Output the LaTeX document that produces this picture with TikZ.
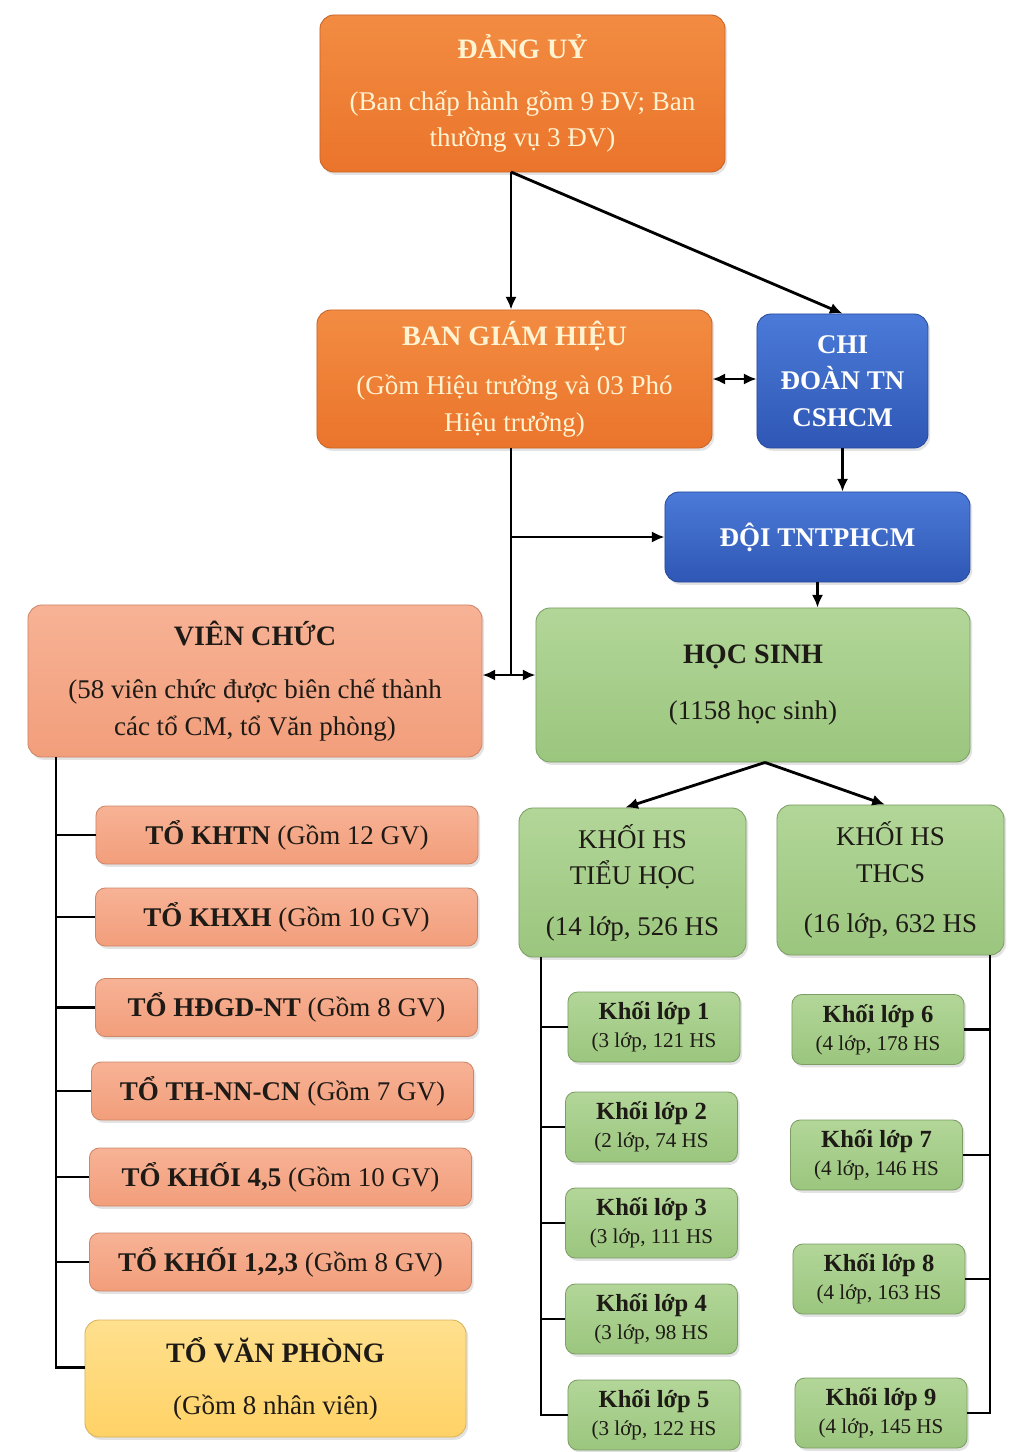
\documentclass[tikz,border=0pt]{standalone}
\usepackage{fontspec}
\setmainfont{Liberation Serif}
\usetikzlibrary{arrows.meta, shadows}

\newcommand{\boxfont}{\fontsize{19.2}{26}\selectfont}
\newcommand{\headfont}{\fontsize{20}{26}\selectfont\bfseries}
\newcommand{\gradehead}{\fontsize{17.5}{20}\selectfont\bfseries}
\newcommand{\gradesub}{\fontsize{15}{20}\selectfont}

\begin{document}
\begin{tikzpicture}[x=0.025cm, y=-0.025cm]

\definecolor{orgtop}{HTML}{F28C42}
\definecolor{orgbot}{HTML}{EB742B}
\definecolor{bluetop}{HTML}{4B7AD8}
\definecolor{bluebot}{HTML}{2F57B5}
\definecolor{salmontop}{HTML}{F7B295}
\definecolor{salmonbot}{HTML}{F29E7B}
\definecolor{greentop}{HTML}{B2D698}
\definecolor{greenbot}{HTML}{9BC67E}
\definecolor{yellowtop}{HTML}{FFE08E}
\definecolor{yellowbot}{HTML}{FFD266}
\definecolor{cream}{HTML}{FFF3D2}
\definecolor{ink}{HTML}{1E1A16}

% ================================================================
%  GEOMETRY: one unit = one pixel of the 1014 x 1452 sheet, y down.
%  party / board / union on top, staff tree down the left (bar x=56),
%  pupils on the right: primary bar x=541, secondary bar x=990.
% ================================================================

\tikzset{
  box/.style={rounded corners=10pt, align=center, inner sep=2pt,
              line width=0.6pt,
              drop shadow={opacity=0.22, shadow xshift=1.5pt, shadow yshift=-2pt}},
  lead/.style={box, top color=orgtop, bottom color=orgbot,
               draw=orgbot!85!black, text=cream, font=\boxfont},
  union/.style={box, top color=bluetop, bottom color=bluebot,
                draw=bluebot!85!black, text=white, font=\boxfont\bfseries},
  staff/.style={box, top color=salmontop, bottom color=salmonbot,
                draw=salmonbot!85!black, text=ink, font=\boxfont},
  pupil/.style={box, top color=greentop, bottom color=greenbot,
                draw=greenbot!80!black, text=ink, font=\boxfont},
  team/.style={staff, minimum width=9.55cm, minimum height=1.45cm,
               rounded corners=7pt},
  grade/.style={pupil, minimum width=4.3cm, minimum height=1.75cm,
                rounded corners=7pt, font=\gradesub},
  office/.style={box, top color=yellowtop, bottom color=yellowbot,
                 draw=yellowbot!85!black, text=ink, font=\boxfont},
  arr/.style={-{Latex[length=9pt, width=8pt]}, line width=2pt},
  arrs/.style={{Latex[length=9pt, width=8pt]}-{Latex[length=9pt, width=8pt]},
               line width=2pt},
  tie/.style={line width=2pt, line join=miter},
}

\useasboundingbox (0,0) rectangle (1014,1452);
\fill[white] (0,0) rectangle (1014,1452);

% ---------------------------------------------------------------- top
\node[lead, minimum width=10.125cm, minimum height=3.925cm] (du) at (522.5, 93.5)
    {{\headfont ĐẢNG UỶ}\\[11pt]
     (Ban chấp hành gồm 9 ĐV; Ban\\ thường vụ 3 ĐV)};
\node[lead, minimum width=9.875cm, minimum height=3.45cm] (bgh) at (514.5, 379)
    {{\headfont BAN GIÁM HIỆU}\\[9pt]
     (Gồm Hiệu trưởng và 03 Phó\\ Hiệu trưởng)};
\node[union, minimum width=4.275cm, minimum height=3.35cm] (cd) at (842.5, 381)
    {CHI\\ĐOÀN TN\\CSHCM};
\node[union, minimum width=7.625cm, minimum height=2.25cm] (doi) at (817.5, 537)
    {ĐỘI TNTPHCM};

% ---------------------------------------------------------------- middle
\node[staff, minimum width=11.35cm, minimum height=3.8cm] (vc) at (255, 681)
    {{\headfont VIÊN CHỨC}\\[12pt]
     (58 viên chức được biên chế thành\\ các tổ CM, tổ Văn phòng)};
\node[pupil, minimum width=10.85cm, minimum height=3.85cm] (hs) at (753, 685)
    {{\headfont HỌC SINH}\\[14pt] (1158 học sinh)};
\node[pupil, minimum width=5.675cm, minimum height=3.725cm] (kth) at (632.5, 882.5)
    {KHỐI HS\\TIỂU HỌC\\[10pt](14 lớp, 526 HS};
\node[pupil, minimum width=5.675cm, minimum height=3.75cm] (kthcs) at (890.5, 880)
    {KHỐI HS\\THCS\\[10pt](16 lớp, 632 HS};

% ---------------------------------------------------------------- staff teams
\foreach \nm/\cx/\cy/\bold/\rest in {
    khtn/287/835/{TỔ KHTN}/{(Gồm 12 GV)},
    khxh/286.5/917/{TỔ KHXH}/{(Gồm 10 GV)},
    hdgd/286.5/1007.5/{TỔ HĐGD-NT}/{(Gồm 8 GV)},
    thnn/282.5/1091/{TỔ TH-NN-CN}/{(Gồm 7 GV)},
    k45/280.5/1177/{TỔ KHỐI 4,5}/{(Gồm 10 GV)},
    k123/280.5/1262/{TỔ KHỐI 1,2,3}/{(Gồm 8 GV)}} {
    \node[team] (\nm) at (\cx, \cy) {{\bfseries\bold} \rest};
}
\node[office, minimum width=9.525cm, minimum height=2.925cm] (vp) at (275.5, 1378.5)
    {{\headfont TỔ VĂN PHÒNG}\\[11pt] (Gồm 8 nhân viên)};

% ---------------------------------------------------------------- grades
\foreach \nm/\cx/\cy/\n/\info in {
    g1/654/1027/1/{(3 lớp, 121 HS},
    g2/651.5/1127/2/{(2 lớp, 74 HS},
    g3/651.5/1223/3/{(3 lớp, 111 HS},
    g4/651.5/1319/4/{(3 lớp, 98 HS},
    g5/654/1415/5/{(3 lớp, 122 HS},
    g6/878/1029.5/6/{(4 lớp, 178 HS},
    g7/876.5/1155/7/{(4 lớp, 146 HS},
    g8/879/1279/8/{(4 lớp, 163 HS},
    g9/881/1413/9/{(4 lớp, 145 HS}} {
    \node[grade] (\nm) at (\cx, \cy) {{\gradehead Khối lớp \n}\\ \info};
}

% ---------------------------------------------------------------- top links
\coordinate (dutap) at (511, 172);
\draw[arr] (dutap) -- (dutap |- bgh.north);
\draw[arr] (dutap) -- (cd.north);
\draw[arrs] (bgh.east) -- (bgh.east -| cd.west);
\draw[arr] (cd.south) -- (cd.south |- doi.north);

% ---------------------------------------------------------------- trunk
\coordinate (trunk) at (511, 675);
\draw[tie] (trunk |- bgh.south) -- (trunk);
\draw[arr] (trunk |- doi.west) -- (doi.west);
\draw[arrs] (trunk -| vc.east) -- (trunk -| hs.west);
\draw[arr] (doi.south) -- (doi.south |- hs.north);

% ---------------------------------------------------------------- pupil fork
\coordinate (hsfork) at ([xshift=0.3cm]hs.south);
\draw[arr] (hsfork) -- ([xshift=-0.18cm]kth.north);
\draw[arr] (hsfork) -- ([xshift=-0.14cm]kthcs.north);

% ---------------------------------------------------------------- staff tree
\coordinate (vcbar) at (56, 757);
\coordinate (vpin) at ([yshift=0.275cm]vp.west);
\draw[tie] (vcbar) -- (vcbar |- vpin) -- (vpin);
\foreach \t in {khtn, khxh, hdgd, thnn, k45, k123}
    \draw[tie] (vcbar |- \t.west) -- (\t.west);

% ---------------------------------------------------------------- grade trees
\coordinate (thbar) at (541, 957);
\draw[tie] (thbar) -- (thbar |- g5.west) -- (g5.west);
\foreach \g in {g1, g2, g3, g4}
    \draw[tie] (thbar |- \g.west) -- (\g.west);

\coordinate (thcsbar) at (990, 955);
\draw[tie] (thcsbar) -- (thcsbar |- g9.east) -- (g9.east);
\foreach \g in {g6, g7, g8}
    \draw[tie] (thcsbar |- \g.east) -- (\g.east);

\end{tikzpicture}
\end{document}
